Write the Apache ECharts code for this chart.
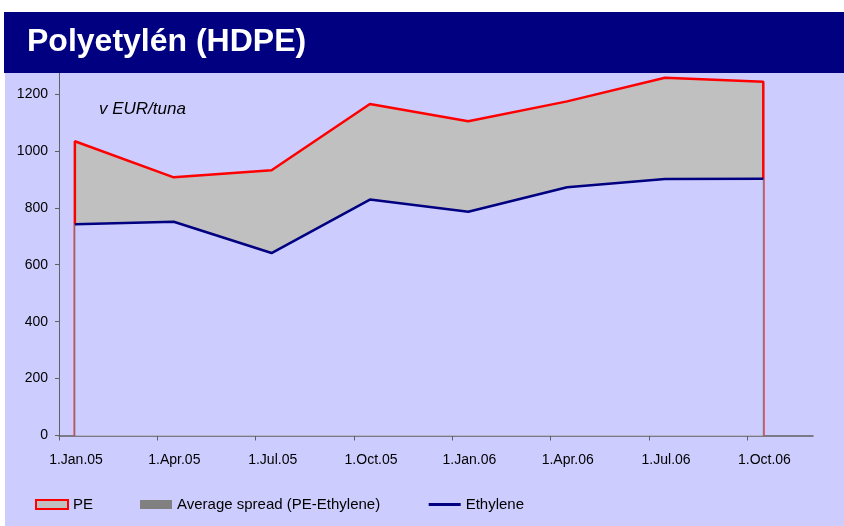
<!DOCTYPE html>
<html>
<head>
<meta charset="utf-8">
<script src="https://cdn.jsdelivr.net/npm/echarts@6/dist/echarts.min.js"></script>
<style>html,body{margin:0;padding:0;background:#fff}#c{width:844px;height:526px}</style>
</head>
<body>
<div id="c"></div>
<script>
// ---- data ----
const dates = ['2005-01-16','2005-04-16','2005-07-16','2005-10-16','2006-01-16','2006-04-16','2006-07-16','2006-10-16'];
const pe = [1034, 907, 932, 1165, 1104, 1174, 1257, 1243];
const ethylene = [742, 751, 641, 829, 786, 872, 901, 902];
const xTickLabels = ['1.Jan.05','1.Apr.05','1.Jul.05','1.Oct.05','1.Jan.06','1.Apr.06','1.Jul.06','1.Oct.06'];
const xTickMonths = [0, 3, 6, 9, 12, 15, 18, 21];
const yTicks = [0, 200, 400, 600, 800, 1000, 1200];
const seriesNames = ['PE', 'Average spread (PE-Ethylene)', 'Ethylene'];

// month offset from 1.Jan.05
function monthPos(s) {
  const [y, m, d] = s.split('-').map(Number);
  const dim = new Date(Date.UTC(y, m, 0)).getUTCDate();
  return (y - 2005) * 12 + (m - 1) + (d - 1) / dim;
}
const xs = dates.map(monthPos);
const peLine = xs.map((x, i) => [x, pe[i]]);
const ethLine = xs.map((x, i) => [x, ethylene[i]]);
const peArea = [[xs[0], 0]].concat(peLine, [[xs[xs.length - 1], 0]]);
const ethArea = [[xs[0], 0]].concat(ethLine, [[xs[xs.length - 1], 0]]);

const FONT = 'Liberation Sans, Arial, sans-serif';
const chart = echarts.init(document.getElementById('c'));
chart.setOption({
  backgroundColor: '#CCCCFF',
  animation: false,
  graphic: [
    { type: 'rect', z: 100, shape: { x: 0, y: 0, width: 844, height: 12 }, style: { fill: '#ffffff' } },
    { type: 'rect', z: 100, shape: { x: 0, y: 0, width: 5, height: 526 }, style: { fill: '#ffffff' } },
    { type: 'rect', z: 101, shape: { x: 4, y: 12, width: 840, height: 61 }, style: { fill: '#000080' } },
    { type: 'text', z: 102, x: 27, y: 42, style: { text: 'Polyetylén (HDPE)', fill: '#ffffff', font: 'bold 32px ' + FONT, verticalAlign: 'middle' } },
    { type: 'text', z: 102, x: 99, y: 109, style: { text: 'v EUR/tuna', fill: '#000000', font: 'italic 17px ' + FONT, verticalAlign: 'middle' } }
  ],
  grid: { left: 59, right: 31, top: 71.2, bottom: 90.5, containLabel: false },
  legend: {
    left: 30, top: 492,
    itemWidth: 32, itemHeight: 9, itemGap: 47,
    textStyle: { fontFamily: FONT, fontSize: 15, color: '#000' },
    data: [
      { name: seriesNames[0], icon: 'rect', itemStyle: { color: '#C0C0C0', borderColor: '#FF0000', borderWidth: 2 } },
      { name: seriesNames[1], icon: 'rect', itemStyle: { color: '#808080', borderWidth: 0 } },
      { name: seriesNames[2], itemStyle: { opacity: 0 }, lineStyle: { color: '#000080', width: 3 } }
    ]
  },
  xAxis: {
    type: 'value', min: 0, max: 23,
    splitLine: { show: false },
    axisLine: { lineStyle: { color: '#606060', width: 1.5 } },
    axisTick: { length: 5, lineStyle: { color: '#606060' }, customValues: xTickMonths },
    axisLabel: {
      customValues: xTickMonths,
      formatter: v => xTickLabels[xTickMonths.indexOf(v)] || '',
      fontFamily: FONT, fontSize: 14, color: '#000', margin: 18,
      padding: [0, 0, 0, 34]
    }
  },
  yAxis: {
    type: 'value', min: 0, max: 1280,
    splitLine: { show: false },
    axisLine: { show: true, lineStyle: { color: '#606060', width: 1 } },
    axisTick: { show: true, length: 4, lineStyle: { color: '#606060' }, customValues: yTicks },
    axisLabel: { customValues: yTicks, formatter: v => String(v), fontFamily: FONT, fontSize: 14, color: '#000', margin: 11 }
  },
  series: [
    {
      name: seriesNames[0], type: 'line', data: peArea, symbol: 'none', z: 2,
      lineStyle: { color: '#FF0000', width: 2.5 },
      itemStyle: { color: '#FF0000' },
      areaStyle: { color: '#C0C0C0', opacity: 1 }
    },
    {
      name: seriesNames[1], type: 'line', data: ethArea, symbol: 'none', z: 3,
      lineStyle: { color: '#808080', width: 1 },
      itemStyle: { color: '#808080' },
      areaStyle: { color: '#CCCCFF', opacity: 1 }
    },
    {
      name: seriesNames[2], type: 'line', data: ethLine, symbol: 'none', z: 4,
      lineStyle: { color: '#000080', width: 2.5 },
      itemStyle: { color: '#000080' }
    }
  ]
});
</script>
</body>
</html>
